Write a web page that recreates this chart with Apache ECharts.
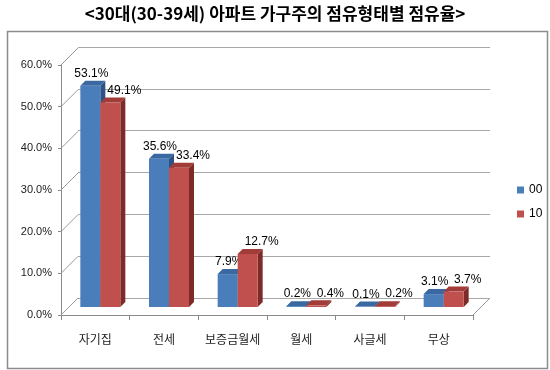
<!DOCTYPE html>
<html>
<head>
<meta charset="utf-8">
<script src="https://cdn.jsdelivr.net/npm/echarts@6/dist/echarts.min.js"></script>
<style>html,body{margin:0;padding:0;background:#fff}#c{width:550px;height:370px}</style>
</head>
<body>
<div id="c"></div>
<script>
const categories = ['자기집', '전세', '보증금월세', '월세', '사글세', '무상'];
const series00 = [53.1, 35.6, 7.9, 0.2, 0.1, 3.1];
const series10 = [49.1, 33.4, 12.7, 0.4, 0.2, 3.7];
const yTicks = [0, 10, 20, 30, 40, 50, 60];
const seriesNames = ['00', '10'];

const chart = echarts.init(document.getElementById('c'), null, {renderer: 'canvas'});

const BAR_W = 20, SHIFT_X = 5, SHIFT_Y = -8, DEPTH = 5, WALL = 17;
const palettes = [
  {front: '#4A7EBB', top: '#3A68A0', side: '#2D5283'},
  {front: '#C0504D', top: '#A13C39', side: '#7D2A28'}
];
const labelOffset = [1, 14];

function bar3d(seriesIdx) {
  return function (params, api) {
    const idx = api.value(0), val = api.value(1);
    const c = api.coord([idx, 0]);
    const t = api.coord([idx, val]);
    const x0 = c[0] - BAR_W + seriesIdx * BAR_W + SHIFT_X;
    const x1 = x0 + BAR_W;
    const yb = c[1] + SHIFT_Y;
    const yt = t[1] + SHIFT_Y;
    const pal = palettes[seriesIdx];
    return {
      type: 'group',
      children: [
        {type: 'polygon', shape: {points: [[x1, yb], [x1 + DEPTH, yb - DEPTH], [x1 + DEPTH, yt - DEPTH], [x1, yt]]}, style: {fill: pal.side}},
        {type: 'polygon', shape: {points: [[x0, yt], [x0 + DEPTH, yt - DEPTH], [x1 + DEPTH, yt - DEPTH], [x1, yt]]}, style: {fill: pal.top}},
        {type: 'rect', shape: {x: x0, y: yt, width: BAR_W, height: yb - yt}, style: {fill: pal.front}},
        {type: 'text', style: {
          text: val.toFixed(1) + '%',
          x: (x0 + x1) / 2 + labelOffset[seriesIdx],
          y: yt - DEPTH - 1,
          align: 'center', verticalAlign: 'bottom',
          font: '12px "Liberation Sans", Arial, sans-serif',
          fill: '#000'
        }}
      ]
    };
  };
}

function decor(params, api) {
  const v = api.value(1);
  const bw = api.size([1, 0])[0];
  const p = api.coord([0, v]);
  const xl = p[0] - bw / 2;
  const children = [
    {type: 'line', shape: {x1: xl, y1: p[1], x2: xl + WALL, y2: p[1] - WALL}, style: {stroke: '#9a9a9a', lineWidth: 1}}
  ];
  if (v === 0) {
    const q = api.coord([categories.length - 1, 0]);
    const xr = q[0] + bw / 2;
    children.push({type: 'line', shape: {x1: xr, y1: q[1], x2: xr + WALL, y2: q[1] - WALL}, style: {stroke: '#9a9a9a', lineWidth: 1}});
  }
  return {type: 'group', children};
}

const option = {
  animation: false,
  backgroundColor: '#fff',
  title: {
    text: '<30대(30-39세) 아파트 가구주의 점유형태별 점유율>',
    left: 'center', top: 0,
    textStyle: {fontFamily: '"Noto Sans CJK KR"', fontSize: 17, fontWeight: 'bold', color: '#000'}
  },
  graphic: [{
    type: 'rect', left: 5, top: 29, shape: {width: 540, height: 337},
    style: {fill: 'none', stroke: '#8c8c8c', lineWidth: 1.5}, silent: true, z: -10
  }],
  legend: {
    orient: 'vertical', left: 512, top: 179,
    itemWidth: 7, itemHeight: 7, itemGap: 12, icon: 'rect',
    textStyle: {fontSize: 12, fontFamily: '"Liberation Sans", Arial, sans-serif', color: '#000'},
    data: seriesNames
  },
  grid: [
    {left: 61, right: 77, top: 65, bottom: 55},
    {left: 78, right: 60, top: 47, bottom: 72}
  ],
  xAxis: [
    {
      type: 'category', gridIndex: 0, data: categories,
      axisLine: {lineStyle: {color: '#8a8a8a'}},
      axisTick: {show: true, interval: 0, length: 5, lineStyle: {color: '#8a8a8a'}},
      axisLabel: {interval: 0, margin: 18, fontSize: 12, color: '#222', fontFamily: '"Noto Sans CJK KR"'}
    },
    {type: 'category', gridIndex: 1, data: categories, show: false}
  ],
  yAxis: [
    {
      type: 'value', gridIndex: 0, min: 0, max: 60, interval: 10,
      axisLine: {show: true, lineStyle: {color: '#8a8a8a'}},
      axisTick: {show: true, length: 3, lineStyle: {color: '#8a8a8a'}},
      splitLine: {show: false},
      axisLabel: {margin: 9, fontSize: 11, color: '#222', fontFamily: '"Liberation Sans", Arial, sans-serif',
        formatter: v => v.toFixed(1) + '%'}
    },
    {
      type: 'value', gridIndex: 1, min: 0, max: 60, interval: 10,
      axisLine: {show: false}, axisTick: {show: false}, axisLabel: {show: false},
      splitLine: {show: true, lineStyle: {color: '#a8a8a8', width: 1}}
    }
  ],
  series: [
    {
      type: 'custom', name: 'wall', xAxisIndex: 0, yAxisIndex: 0, silent: true, z: 1,
      renderItem: decor, data: yTicks.map(t => [0, t])
    },
    {
      type: 'custom', name: seriesNames[0], xAxisIndex: 0, yAxisIndex: 0, z: 2,
      itemStyle: {color: palettes[0].front},
      renderItem: bar3d(0), data: series00.map((v, i) => [i, v])
    },
    {
      type: 'custom', name: seriesNames[1], xAxisIndex: 0, yAxisIndex: 0, z: 2,
      itemStyle: {color: palettes[1].front},
      renderItem: bar3d(1), data: series10.map((v, i) => [i, v])
    }
  ]
};
chart.setOption(option);
</script>
</body>
</html>
